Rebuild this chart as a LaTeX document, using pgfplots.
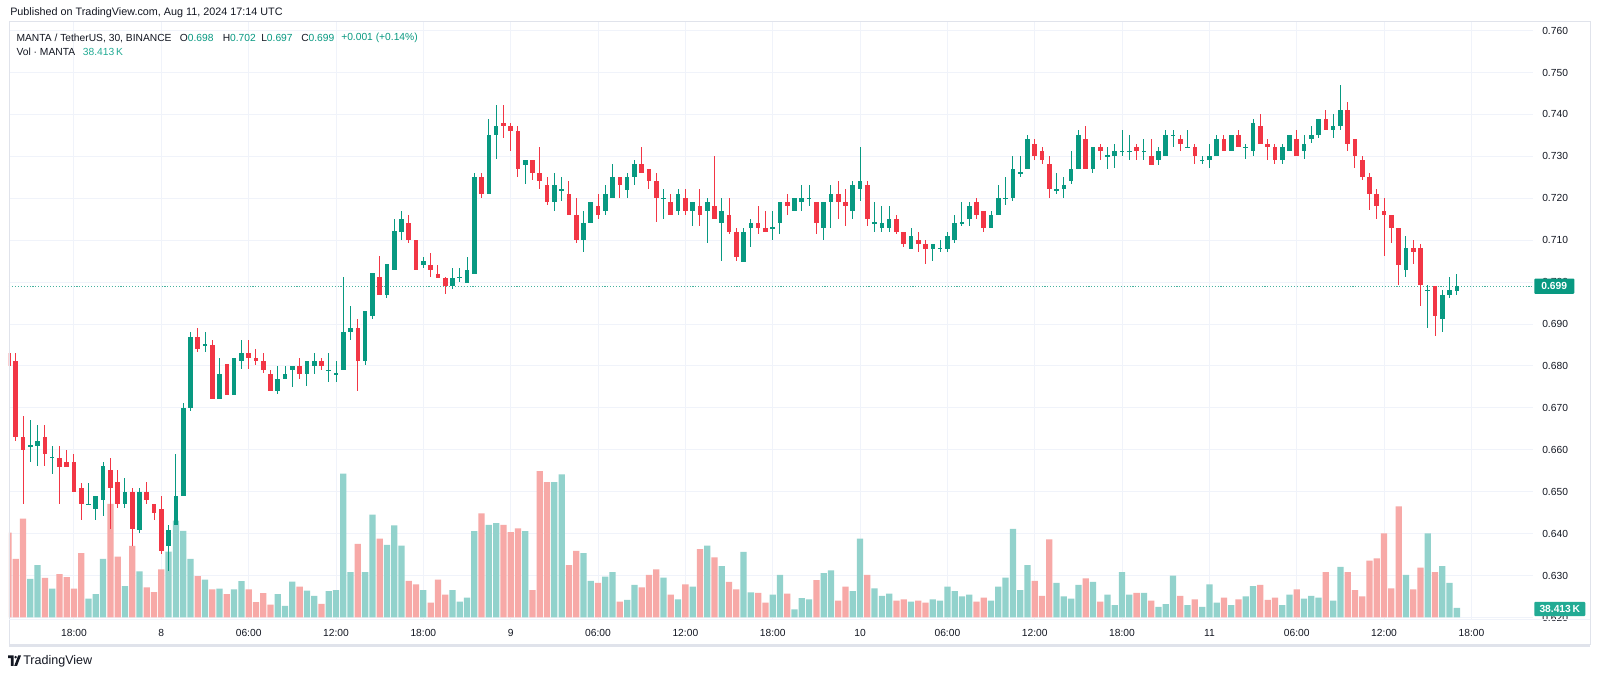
\documentclass[border=0pt]{standalone}
\usepackage{pgfplots}
\pgfplotsset{compat=1.18}
\usepackage{pgfplotstable}
\usepackage{fontspec}
\setmainfont{Liberation Sans}
\definecolor{tvgreen}{HTML}{089981}
\definecolor{tvred}{HTML}{F23645}
\definecolor{volgreen}{HTML}{92D2CC}
\definecolor{volred}{HTML}{F7A9A7}
\definecolor{volteal}{HTML}{22AB94}
\definecolor{textcol}{HTML}{131722}
\definecolor{gridcol}{HTML}{F0F3FA}
\definecolor{framecol}{HTML}{E0E3EB}
\newcommand{\lab}{\fontsize{7.7pt}{9pt}\selectfont}

\pgfplotstableread{
t O H L C V
13.5 0.6831 0.6831 0.6800 0.6800 338
14.0 0.6812 0.6831 0.6622 0.6631 234
14.5 0.6631 0.6681 0.6470 0.6600 394
15.0 0.6609 0.6671 0.6572 0.6611 154
15.5 0.6609 0.6660 0.6562 0.6621 209
16.0 0.6631 0.6660 0.6562 0.6590 158
16.5 0.6581 0.6610 0.6542 0.6583 115
17.0 0.6581 0.6610 0.6470 0.6559 173
17.5 0.6572 0.6600 0.6559 0.6559 161
18.0 0.6572 0.6591 0.6500 0.6500 115
18.5 0.6509 0.6522 0.6432 0.6470 256
19.0 0.6469 0.6522 0.6468 0.6471 75
19.5 0.6459 0.6490 0.6432 0.6490 93
20.0 0.6480 0.6572 0.6442 0.6562 234
20.5 0.6552 0.6581 0.6410 0.6509 453
21.0 0.6522 0.6552 0.6462 0.6470 242
21.5 0.6470 0.6532 0.6462 0.6500 125
22.0 0.6500 0.6509 0.6370 0.6410 285
22.5 0.6408 0.6509 0.6402 0.6500 184
23.0 0.6500 0.6522 0.6470 0.6480 120
23.5 0.6470 0.6470 0.6432 0.6449 101
24.0 0.6459 0.6490 0.6351 0.6359 192
24.5 0.6370 0.6420 0.6311 0.6408 262
25.0 0.6420 0.6590 0.6420 0.6490 386
25.5 0.6490 0.6712 0.6490 0.6700 345
26.0 0.6700 0.6882 0.6692 0.6870 234
26.5 0.6870 0.6890 0.6833 0.6840 165
27.0 0.6850 0.6882 0.6833 0.6852 151
27.5 0.6851 0.6861 0.6721 0.6721 112
28.0 0.6721 0.6820 0.6721 0.6781 115
28.5 0.6805 0.6805 0.6731 0.6731 93
29.0 0.6731 0.6820 0.6731 0.6820 112
29.5 0.6812 0.6863 0.6793 0.6831 145
30.0 0.6831 0.6861 0.6793 0.6820 112
30.5 0.6820 0.6841 0.6802 0.6812 61
31.0 0.6812 0.6831 0.6783 0.6790 97
31.5 0.6781 0.6790 0.6740 0.6740 51
32.0 0.6740 0.6800 0.6733 0.6770 93
32.5 0.6770 0.6800 0.6770 0.6781 46
33.0 0.6790 0.6800 0.6751 0.6800 143
33.5 0.6800 0.6820 0.6770 0.6781 123
34.0 0.6781 0.6812 0.6751 0.6812 107
34.5 0.6800 0.6831 0.6781 0.6812 86
35.0 0.6812 0.6820 0.6790 0.6800 54
35.5 0.6789 0.6831 0.6762 0.6791 105
36.0 0.6781 0.6812 0.6762 0.6783 109
36.5 0.6790 0.7012 0.6790 0.6882 573
37.0 0.6882 0.6943 0.6863 0.6890 181
37.5 0.6890 0.6911 0.6740 0.6812 293
38.0 0.6812 0.6931 0.6802 0.6931 181
38.5 0.6919 0.7021 0.6911 0.7021 410
39.0 0.7012 0.7062 0.6969 0.6969 314
39.5 0.6969 0.7042 0.6963 0.7042 289
40.0 0.7030 0.7151 0.7030 0.7121 367
40.5 0.7120 0.7170 0.7101 0.7151 286
41.0 0.7141 0.7161 0.7093 0.7100 146
41.5 0.7101 0.7101 0.7030 0.7030 132
42.0 0.7041 0.7061 0.7033 0.7051 109
42.5 0.7041 0.7069 0.7013 0.7030 59
43.0 0.7020 0.7041 0.7011 0.7011 151
43.5 0.7011 0.7011 0.6971 0.6991 91
44.0 0.6991 0.7033 0.6983 0.7011 109
44.5 0.7010 0.7033 0.7001 0.7012 63
45.0 0.6999 0.7061 0.6999 0.7030 79
45.5 0.7019 0.7261 0.7019 0.7250 344
46.0 0.7250 0.7261 0.7201 0.7211 415
46.5 0.7211 0.7390 0.7211 0.7350 369
47.0 0.7350 0.7422 0.7293 0.7372 376
47.5 0.7380 0.7422 0.7343 0.7372 369
48.0 0.7372 0.7380 0.7313 0.7360 340
48.5 0.7360 0.7372 0.7251 0.7271 355
49.0 0.7280 0.7291 0.7233 0.7291 344
49.5 0.7291 0.7291 0.7243 0.7261 109
50.0 0.7261 0.7322 0.7222 0.7241 583
50.5 0.7231 0.7250 0.7183 0.7191 539
51.0 0.7191 0.7261 0.7170 0.7231 539
51.5 0.7220 0.7250 0.7193 0.7222 570
52.0 0.7211 0.7241 0.7161 0.7161 209
52.5 0.7161 0.7200 0.7093 0.7100 265
53.0 0.7100 0.7170 0.7072 0.7141 256
53.5 0.7141 0.7191 0.7141 0.7191 146
54.0 0.7181 0.7211 0.7151 0.7161 138
54.5 0.7170 0.7231 0.7161 0.7211 163
55.0 0.7200 0.7281 0.7200 0.7250 181
55.5 0.7250 0.7250 0.7201 0.7231 63
56.0 0.7221 0.7261 0.7201 0.7250 70
56.5 0.7250 0.7291 0.7231 0.7281 130
57.0 0.7281 0.7322 0.7261 0.7261 120
57.5 0.7271 0.7271 0.7222 0.7241 170
58.0 0.7241 0.7261 0.7143 0.7200 192
58.5 0.7199 0.7222 0.7151 0.7201 159
59.0 0.7191 0.7211 0.7161 0.7161 91
59.5 0.7170 0.7222 0.7161 0.7211 72
60.0 0.7200 0.7222 0.7161 0.7170 132
60.5 0.7170 0.7191 0.7133 0.7191 123
61.0 0.7181 0.7222 0.7133 0.7161 272
61.5 0.7170 0.7200 0.7093 0.7191 286
62.0 0.7181 0.7300 0.7151 0.7151 240
62.5 0.7141 0.7200 0.7051 0.7170 205
63.0 0.7161 0.7200 0.7114 0.7120 142
63.5 0.7120 0.7130 0.7051 0.7061 112
64.0 0.7049 0.7130 0.7049 0.7120 261
64.5 0.7130 0.7151 0.7083 0.7141 100
65.0 0.7141 0.7181 0.7114 0.7130 98
65.5 0.7130 0.7170 0.7120 0.7120 59
66.0 0.7129 0.7170 0.7101 0.7131 91
66.5 0.7141 0.7191 0.7114 0.7191 170
67.0 0.7191 0.7211 0.7161 0.7181 95
67.5 0.7170 0.7200 0.7170 0.7200 32
68.0 0.7191 0.7231 0.7170 0.7200 77
68.5 0.7199 0.7231 0.7181 0.7201 72
69.0 0.7191 0.7191 0.7114 0.7141 149
69.5 0.7130 0.7191 0.7101 0.7191 177
70.0 0.7191 0.7231 0.7130 0.7211 188
70.5 0.7211 0.7241 0.7151 0.7191 67
71.0 0.7191 0.7221 0.7133 0.7181 123
71.5 0.7170 0.7241 0.7151 0.7231 105
72.0 0.7221 0.7322 0.7193 0.7241 314
72.5 0.7231 0.7241 0.7133 0.7151 170
73.0 0.7140 0.7191 0.7120 0.7142 116
73.5 0.7130 0.7181 0.7120 0.7141 86
74.0 0.7130 0.7181 0.7120 0.7151 95
74.5 0.7151 0.7161 0.7114 0.7120 67
75.0 0.7120 0.7120 0.7083 0.7091 72
75.5 0.7080 0.7130 0.7080 0.7111 63
76.0 0.7101 0.7120 0.7072 0.7091 67
76.5 0.7091 0.7101 0.7043 0.7080 59
77.0 0.7080 0.7091 0.7051 0.7091 72
77.5 0.7080 0.7101 0.7072 0.7082 67
78.0 0.7080 0.7120 0.7072 0.7111 123
78.5 0.7100 0.7161 0.7093 0.7141 105
79.0 0.7140 0.7191 0.7133 0.7142 84
79.5 0.7151 0.7191 0.7133 0.7181 91
80.0 0.7191 0.7200 0.7151 0.7161 63
80.5 0.7170 0.7170 0.7120 0.7130 79
81.0 0.7130 0.7170 0.7130 0.7161 67
81.5 0.7161 0.7231 0.7161 0.7200 123
82.0 0.7199 0.7250 0.7183 0.7201 159
82.5 0.7200 0.7300 0.7193 0.7271 353
83.0 0.7260 0.7300 0.7251 0.7262 109
83.5 0.7271 0.7350 0.7271 0.7342 209
84.0 0.7330 0.7342 0.7291 0.7300 146
84.5 0.7312 0.7322 0.7281 0.7291 86
85.0 0.7281 0.7300 0.7201 0.7221 311
85.5 0.7220 0.7261 0.7211 0.7222 138
86.0 0.7221 0.7250 0.7201 0.7231 84
86.5 0.7241 0.7312 0.7233 0.7271 75
87.0 0.7271 0.7362 0.7271 0.7350 130
87.5 0.7342 0.7372 0.7271 0.7271 156
88.0 0.7271 0.7322 0.7261 0.7322 142
88.5 0.7322 0.7330 0.7291 0.7312 63
89.0 0.7300 0.7322 0.7271 0.7302 91
89.5 0.7300 0.7330 0.7273 0.7312 49
90.0 0.7311 0.7362 0.7300 0.7313 181
90.5 0.7311 0.7350 0.7291 0.7313 91
91.0 0.7322 0.7330 0.7291 0.7312 98
91.5 0.7311 0.7342 0.7291 0.7313 98
92.0 0.7300 0.7342 0.7280 0.7280 67
92.5 0.7291 0.7322 0.7280 0.7312 42
93.0 0.7300 0.7362 0.7300 0.7350 53
93.5 0.7349 0.7362 0.7322 0.7351 167
94.0 0.7342 0.7350 0.7312 0.7330 86
94.5 0.7321 0.7362 0.7321 0.7323 49
95.0 0.7322 0.7330 0.7281 0.7300 72
95.5 0.7290 0.7300 0.7281 0.7292 42
96.0 0.7291 0.7330 0.7273 0.7300 132
96.5 0.7300 0.7350 0.7300 0.7342 59
97.0 0.7342 0.7350 0.7312 0.7312 79
97.5 0.7312 0.7350 0.7312 0.7350 49
98.0 0.7350 0.7362 0.7322 0.7322 72
98.5 0.7321 0.7330 0.7293 0.7323 84
99.0 0.7312 0.7390 0.7300 0.7380 125
99.5 0.7372 0.7400 0.7330 0.7330 130
100.0 0.7330 0.7342 0.7291 0.7322 70
100.5 0.7322 0.7330 0.7281 0.7291 79
101.0 0.7291 0.7330 0.7281 0.7322 49
101.5 0.7312 0.7350 0.7312 0.7350 91
102.0 0.7342 0.7362 0.7300 0.7300 112
102.5 0.7312 0.7350 0.7293 0.7330 75
103.0 0.7342 0.7372 0.7333 0.7350 86
103.5 0.7350 0.7390 0.7343 0.7390 79
104.0 0.7390 0.7410 0.7362 0.7362 181
104.5 0.7362 0.7400 0.7343 0.7372 67
105.0 0.7372 0.7471 0.7362 0.7410 202
105.5 0.7410 0.7430 0.7312 0.7330 181
106.0 0.7342 0.7342 0.7273 0.7300 109
106.5 0.7291 0.7300 0.7243 0.7250 84
107.0 0.7250 0.7261 0.7171 0.7211 227
107.5 0.7211 0.7221 0.7151 0.7181 236
108.0 0.7170 0.7200 0.7063 0.7161 335
108.5 0.7161 0.7161 0.7093 0.7130 116
109.0 0.7130 0.7130 0.6993 0.7041 443
109.5 0.7030 0.7111 0.7013 0.7081 170
110.0 0.7081 0.7101 0.7043 0.7071 112
110.5 0.7081 0.7091 0.6943 0.6993 199
111.0 0.6980 0.6993 0.6891 0.6982 335
111.5 0.6991 0.6991 0.6872 0.6919 181
112.0 0.6912 0.6981 0.6882 0.6969 205
112.5 0.6969 0.7011 0.6961 0.6981 138
113.0 0.6980 0.7020 0.6970 0.6990 38.413
}\candles

\pgfplotsset{tvpane/.style={
  at={(6.75pt,43.95pt)}, anchor=south west,
  width=1143pt, height=448.05pt, scale only axis,
  xmin=13.535, xmax=118.23, clip=true},
  candle/.style 2 args={draw=none, mark=none, forget plot,
    error bars/.cd, y dir=both, y explicit, error mark=none,
    error bar style={line width=#1, draw=#2, solid}}}

\begin{document}
\begin{tikzpicture}
\path[use as bounding box, fill=white] (0,0) rectangle (1200pt,508.5pt);

% grid and labels
\begin{axis}[tvpane, ymin=0.61954, ymax=0.76205,
  axis line style={draw=none}, major tick length=0pt,
  xtick={18,24,30,36,42,48,54,60,66,72,78,84,90,96,102,108,114},
  xticklabels={18:00,8,06:00,12:00,18:00,9,06:00,12:00,18:00,10,06:00,12:00,18:00,11,06:00,12:00,18:00},
  ytick={0.62,0.63,0.64,0.65,0.66,0.67,0.68,0.69,0.70,0.71,0.72,0.73,0.74,0.75,0.76},
  grid=major, major grid style={draw=gridcol, line width=0.75pt},
  yticklabel pos=right,
  yticklabel style={anchor=west, inner sep=0pt, xshift=6.75pt, font=\lab, text=textcol,
    /pgf/number format/fixed, /pgf/number format/fixed zerofill,
    /pgf/number format/precision=3, /pgf/number format/assume math mode=true},
  xticklabel style={anchor=north, inner sep=0pt, yshift=-7.2pt, font=\lab, text=textcol},
]
\addplot[draw=none, forget plot] coordinates {(50,0.70)};
\end{axis}

% volume
\begin{axis}[tvpane, ymin=-7.6, ymax=2372.5, hide axis]
\addplot[ybar, bar width=0.43, bar shift=0pt, fill=volgreen, draw=none]
  table[x=t, y expr={\thisrow{C}>=\thisrow{O} ? \thisrow{V} : nan}] {\candles};
\addplot[ybar, bar width=0.43, bar shift=0pt, fill=volred, draw=none]
  table[x=t, y expr={\thisrow{C}<\thisrow{O} ? \thisrow{V} : nan}] {\candles};
\end{axis}

% candles
\begin{axis}[tvpane, ymin=0.61954, ymax=0.76205, hide axis]
\addplot[tvgreen!75, dash pattern=on 0.8pt off 1.4pt, line width=0.75pt] coordinates {(13.535,0.699) (118.23,0.699)};
\addplot[candle={0.75pt}{tvgreen}]
  table[x=t, y expr={\thisrow{C}>=\thisrow{O} ? (\thisrow{H}+\thisrow{L})/2 : nan},
        y error expr={(\thisrow{H}-\thisrow{L})/2}] {\candles};
\addplot[candle={0.75pt}{tvred}]
  table[x=t, y expr={\thisrow{C}<\thisrow{O} ? (\thisrow{H}+\thisrow{L})/2 : nan},
        y error expr={(\thisrow{H}-\thisrow{L})/2}] {\candles};
\addplot[candle={3.5pt}{tvgreen}]
  table[x=t, y expr={\thisrow{C}>=\thisrow{O} ? (\thisrow{O}+\thisrow{C})/2 : nan},
        y error expr={max(abs(\thisrow{C}-\thisrow{O})/2,0.00012)}] {\candles};
\addplot[candle={3.5pt}{tvred}]
  table[x=t, y expr={\thisrow{C}<\thisrow{O} ? (\thisrow{O}+\thisrow{C})/2 : nan},
        y error expr={max(abs(\thisrow{C}-\thisrow{O})/2,0.00012)}] {\candles};
\end{axis}

\begin{scope}[x=0.75pt, y=-0.75pt, yshift=508.5pt]
\draw[framecol, line width=0.75pt] (9,22) rectangle (1590,645);
\fill[framecol] (9,644) rectangle (1590,647);
\draw[gridcol, line width=0.75pt] (9,619.6) -- (1590,619.6);
\node[anchor=west, inner sep=0pt, font=\fontsize{8.1pt}{9pt}\selectfont, text=textcol] at (10,12.5) {Published on TradingView.com, Aug 11, 2024 17:14 UTC};
\node[anchor=west, inner sep=0pt, font=\lab, text=textcol] at (16.3,38) {MANTA / TetherUS, 30, BINANCE};
\node[anchor=west, inner sep=0pt, font=\lab, text=textcol] at (179.6,38) {O\textcolor{tvgreen}{0.698}};
\node[anchor=west, inner sep=0pt, font=\lab, text=textcol] at (222.5,38) {H\textcolor{tvgreen}{0.702}};
\node[anchor=west, inner sep=0pt, font=\lab, text=textcol] at (261,38) {L\textcolor{tvgreen}{0.697}};
\node[anchor=west, inner sep=0pt, font=\lab, text=textcol] at (301,38) {C\textcolor{tvgreen}{0.699}};
\node[anchor=west, inner sep=0pt, font=\lab, text=tvgreen] at (341,38) {+0.001 (+0.14\%)};
\node[anchor=west, inner sep=0pt, font=\lab, text=textcol] at (16.3,52) {Vol · MANTA};
\node[anchor=west, inner sep=0pt, font=\lab, text=volteal] at (82.7,52) {38.413\,K};
\node[anchor=west, inner sep=0pt, fill=tvgreen, rounded corners=0.75pt, text=white, font=\lab\bfseries,
  minimum width=30pt, minimum height=11.5pt] at (1534,286.2) {0.699};
\node[anchor=west, inner sep=0pt, fill=volteal, rounded corners=0.75pt, text=white, font=\lab\bfseries,
  minimum width=38.25pt, minimum height=10.7pt] at (1534,609) {38.413\,K};
% logo
\fill[textcol] (8,655.5) -- (13.5,655.5) -- (13.5,666) -- (10.8,666) -- (10.8,658.2) -- (8,658.2) -- cycle;
\fill[textcol] (15.6,657.2) circle (1.4);
\fill[textcol] (18.2,655.5) -- (21,655.5) -- (17,666) -- (14.2,666) -- cycle;
\node[anchor=west, inner sep=0pt, font=\fontsize{9.4pt}{10pt}\selectfont, text=textcol] at (23,661) {TradingView};
\end{scope}
\end{tikzpicture}
\end{document}
